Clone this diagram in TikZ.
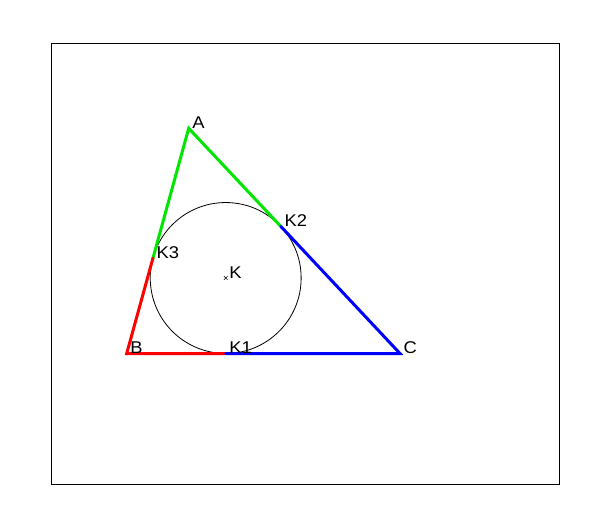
\documentclass[tikz,border=0pt]{standalone}
\usepackage{fontspec}
\setmainfont{Liberation Sans}[FakeStretch=1.08]
\usetikzlibrary{positioning, shapes.misc}
\definecolor{sideA}{RGB}{0,230,0}
\definecolor{sideB}{RGB}{255,0,0}
\definecolor{sideC}{RGB}{0,0,255}

\begin{document}
\begin{tikzpicture}[
  x=1pt, y=-1pt,
  seg/.style={line width=3pt, line cap=round},
  lbl/.style={anchor=base west, inner sep=0pt, xshift=3.5pt, font=\fontsize{17}{17}\selectfont},
  ctrmark/.style={draw, cross out, minimum size=3pt, inner sep=0pt, line width=0.6pt},
]
  \useasboundingbox (0,0) rectangle (609,529);
  \draw[line width=1pt] (51,44) rectangle (559,484);

  % triangle and touching points
  \coordinate (A) at (188.7,128.3);
  \coordinate (B) at (126.7,353.5);
  \coordinate (C) at (400,353.5);
  \coordinate (K) at (225.7,278.0);
  \coordinate (K1) at (225.7,353.5);
  \coordinate (K2) at (280.8,226.4);
  \coordinate (K3) at (153.0,258.0);

  \draw[line width=0.8pt] (K) circle (75.45);

  \draw[seg, sideA] (K3) -- (A) -- (K2);
  \draw[seg, sideB] (K3) -- (B) -- (K1);
  \draw[seg, sideC] (K1) -- (C) -- (K2);

  \node[ctrmark] (Kx) at (K) {};

  \node[lbl] (lA) at (A) {A};
  \node[lbl] (lB) at (B) {B};
  \node[lbl] (lC) at (C) {C};
  \node[lbl] (lK) at (K) {K};
  \node[lbl] (lK1) at (K1) {K1};
  \node[lbl] (lK2) at (K2) {K2};
  \node[lbl] (lK3) at (K3) {K3};
\end{tikzpicture}
\end{document}
